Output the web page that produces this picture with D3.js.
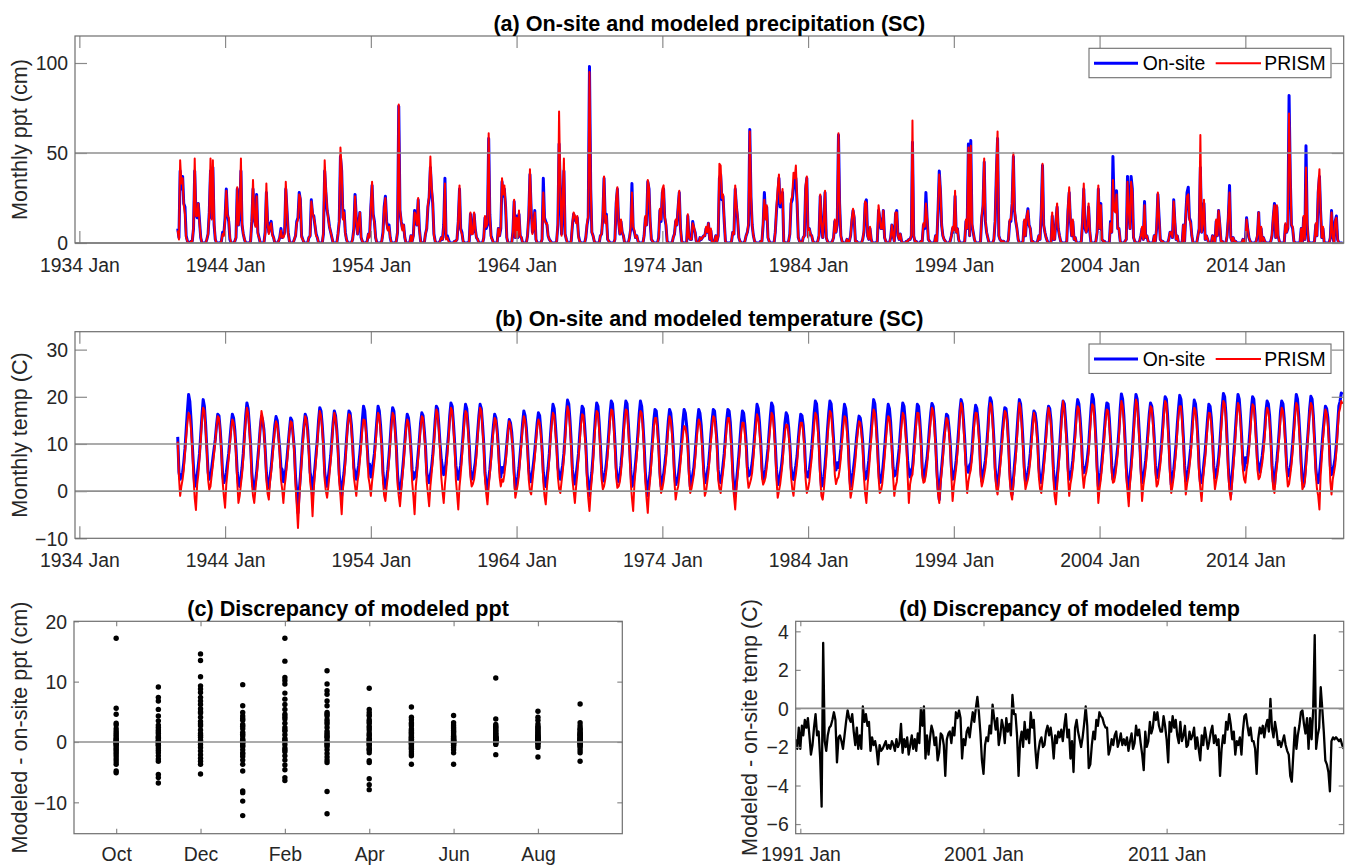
<!DOCTYPE html>
<html>
<head>
<meta charset="utf-8">
<script src="https://cdn.jsdelivr.net/npm/d3@7"></script>
<style>
body{margin:0;background:#fff;}
svg{display:block;font-family:"Liberation Sans",Arial,Helvetica,sans-serif;}
</style>
</head>
<body>
<svg id="fig" width="1351" height="868"></svg>
<script>
// series are stored by water year (Oct..Sep), one row per year
const firstWY = 1941;
const wyMonths = ["Oct","Nov","Dec","Jan","Feb","Mar","Apr","May","Jun","Jul","Aug","Sep"];
const seriesNames = ["On-site","PRISM"];

// (a) monthly precipitation, cm
const pptOnsite = [
[8,3,40,30,37,22,20,4,1,0,0,1],
[1,8,40,16,14,22,12,3,0,0,0,0],
[2,5,17,40,14,42,10,2,0,0,0,0],
[1,6,5,14,30,16,12,2,0,0,0,1],
[3,30,10,17,40,10,5,2,0,0,0,0],
[1,12,30,14,10,27,6,3,0,0,0,0],
[6,28,12,6,10,12,5,3,0,0,0,1],
[3,8,3,4,6,30,18,6,1,0,0,0],
[2,4,12,14,28,24,4,2,0,0,0,0],
[3,4,24,16,15,10,5,3,0,0,0,0],
[5,40,28,18,14,9,6,3,0,0,0,0],
[5,12,48,40,14,18,6,2,0,0,0,0],
[2,8,27,14,5,10,17,3,1,0,0,0],
[1,5,4,20,32,16,12,3,0,0,0,0],
[1,6,20,26,12,8,10,3,0,0,0,0],
[1,6,76,18,12,8,10,3,0,0,0,0],
[4,1,4,18,14,10,24,8,1,0,0,0],
[5,8,20,25,42,30,22,5,1,0,0,0],
[1,3,2,10,36,3,4,2,0,0,0,0],
[1,1,2,12,30,8,6,1,0,0,0,0],
[1,16,5,6,16,8,3,2,0,0,0,0],
[3,14,8,10,58,16,4,2,0,0,0,0],
[8,4,8,34,26,30,20,3,0,0,0,0],
[6,23,3,15,3,16,4,3,0,0,0,0],
[4,15,38,18,6,8,18,2,0,0,0,0],
[2,36,14,12,10,4,2,1,0,0,0,0],
[1,10,55,30,5,20,40,5,2,0,0,0],
[1,10,16,14,12,14,4,1,0,0,0,0],
[3,10,14,98,30,6,4,1,0,0,0,0],
[4,5,14,36,12,16,2,1,0,0,0,0],
[2,22,30,12,5,12,6,4,0,0,0,0],
[3,8,33,8,6,3,4,1,0,0,0,0],
[4,14,10,34,30,12,2,1,0,0,0,0],
[3,18,12,28,30,14,10,1,0,0,0,0],
[3,5,12,10,20,28,8,1,0,0,0,0],
[15,3,2,2,12,8,6,1,0,0,3,2],
[3,4,4,8,6,11,2,7,0,0,1,4],
[1,4,36,38,24,26,12,1,0,0,0,0],
[1,6,5,30,20,14,3,1,0,0,0,1],
[4,6,10,63,25,10,4,1,0,0,0,0],
[1,1,10,28,14,20,3,1,0,0,0,0],
[6,18,26,36,20,22,28,1,0,0,0,1],
[5,22,24,31,34,36,22,3,1,0,0,3],
[4,30,36,4,8,5,4,1,0,0,0,1],
[4,26,10,3,12,28,3,1,0,0,0,1],
[3,12,6,10,60,22,4,1,0,0,0,2],
[1,1,4,12,18,14,1,1,0,0,0,0],
[2,6,22,24,4,2,8,2,0,0,0,0],
[1,18,14,8,8,18,3,1,0,0,0,3],
[10,4,1,16,18,4,2,5,1,0,0,0],
[1,1,2,2,4,56,4,1,1,0,0,0],
[1,1,10,8,28,14,2,1,0,0,0,0],
[4,1,18,40,28,10,4,2,1,0,0,0],
[1,4,8,6,26,6,8,2,0,0,0,0],
[1,12,8,55,4,57,10,6,2,0,0,0],
[0,1,14,20,45,12,6,3,0,0,0,0],
[2,12,38,58,4,2,1,1,1,0,0,0],
[2,12,12,22,48,18,12,8,2,0,0,0],
[1,12,4,14,19,10,8,1,1,0,0,0],
[1,4,2,18,43,10,6,3,1,0,0,0],
[15,2,2,12,20,8,4,1,0,0,0,0],
[1,18,28,12,4,12,2,3,0,0,0,0],
[1,12,30,8,6,8,20,6,0,0,0,0],
[1,6,30,8,22,2,1,1,0,0,0,0],
[12,6,48,20,18,29,8,8,1,0,0,0],
[1,2,37,20,8,37,30,3,1,0,0,0],
[1,4,8,2,23,3,4,1,0,0,0,0],
[4,1,8,27,14,2,1,1,0,0,0,0],
[2,6,6,3,24,12,2,4,0,0,0,0],
[10,1,16,28,31,14,12,4,0,0,0,0],
[4,8,42,6,10,22,2,4,2,0,0,0],
[4,2,0,12,4,18,10,1,1,0,0,0],
[4,14,32,3,1,3,1,1,0,0,0,0],
[0,2,1,0,14,8,3,1,0,0,0,0],
[1,4,17,0,8,1,3,1,0,0,0,0],
[1,4,14,22,3,20,4,1,0,0,0,0],
[10,6,8,82,36,10,8,1,0,0,0,0],
[0,8,0,14,2,54,10,1,0,0,0,0],
[1,10,4,28,37,18,3,8,0,0,0,0],
[0,3,18,4,0,12,15,2,0,0,0,0]
];
const pptPrism = [
[7,2,46,33,36,21,16,3,1,0,0,1],
[1,9,47,15,15,22,11,3,0,0,0,0],
[2,5,17,47,13,46,12,2,0,0,0,0],
[1,5,4,13,29,15,14,3,0,0,0,1],
[3,31,10,18,47,11,5,2,0,0,0,0],
[1,13,35,14,9,26,5,3,0,0,0,0],
[5,33,11,5,9,11,4,3,0,0,0,1],
[3,7,3,3,5,34,18,5,1,0,0,0],
[2,4,11,13,27,25,3,2,0,0,0,0],
[3,4,23,17,14,11,4,3,0,0,0,0],
[6,46,30,19,13,9,6,3,0,0,0,0],
[5,12,53,41,13,17,5,2,0,0,0,0],
[2,7,26,13,5,11,17,3,1,0,0,0],
[1,5,3,21,34,15,11,3,0,0,0,0],
[1,5,19,25,11,7,9,3,0,0,0,0],
[1,6,77,19,12,7,10,3,0,0,0,0],
[4,1,4,17,15,10,25,7,1,0,0,0],
[5,8,21,26,48,32,23,4,1,0,0,0],
[1,3,2,9,33,2,3,1,0,0,0,0],
[1,1,2,13,32,7,5,1,0,0,0,0],
[1,17,5,5,17,8,3,2,0,0,0,0],
[3,15,9,11,61,15,3,2,0,0,0,0],
[8,4,9,36,27,32,21,3,0,0,0,0],
[6,24,3,14,3,18,4,3,0,0,0,0],
[4,16,41,19,5,8,17,2,0,0,0,0],
[2,28,13,11,11,4,2,1,0,0,0,0],
[1,11,73,32,4,22,47,5,2,0,0,0],
[1,11,17,15,11,15,3,1,0,0,0,0],
[3,11,15,95,31,6,4,1,0,0,0,0],
[4,5,15,37,11,15,2,1,0,0,0,0],
[2,24,31,11,5,13,6,4,0,0,0,0],
[3,9,28,9,7,3,4,1,0,0,0,0],
[4,15,10,35,31,13,2,1,0,0,0,0],
[3,19,13,30,32,15,11,1,0,0,0,0],
[3,5,13,10,21,29,8,1,0,0,0,0],
[16,3,2,2,11,9,6,1,0,0,3,2],
[3,4,4,9,6,11,2,8,0,0,1,4],
[1,4,44,43,25,27,13,1,0,0,0,0],
[1,6,5,32,21,15,3,1,0,0,0,1],
[4,6,11,62,26,10,4,1,0,0,0,0],
[1,1,12,24,13,21,3,1,0,0,0,0],
[6,20,30,38,22,24,30,1,0,0,0,1],
[5,24,26,39,36,43,24,3,1,0,0,3],
[4,32,37,3,8,5,4,1,0,0,0,1],
[4,27,11,3,13,29,3,1,0,0,0,1],
[3,13,6,11,61,23,4,1,0,0,0,2],
[1,1,4,13,19,15,1,1,0,0,0,0],
[2,7,23,22,4,2,9,2,0,0,0,0],
[1,21,15,8,8,18,3,1,0,0,0,3],
[10,4,1,17,17,4,2,5,1,0,0,0],
[1,1,2,2,4,68,4,1,1,0,0,0],
[1,1,11,9,22,14,2,1,0,0,0,0],
[4,1,19,38,29,10,4,2,1,0,0,0],
[1,4,9,7,29,6,8,2,0,0,0,0],
[1,13,8,53,4,54,11,6,2,0,0,0],
[0,1,15,21,47,13,6,3,0,0,0,0],
[2,13,40,62,4,2,1,1,1,0,0,0],
[2,13,13,23,50,19,13,8,2,0,0,0],
[1,13,4,15,18,10,8,1,1,0,0,0],
[1,4,2,19,44,10,6,3,1,0,0,0],
[17,2,2,13,22,9,4,1,0,0,0,0],
[1,20,31,13,4,13,2,3,0,0,0,0],
[1,13,33,9,6,9,22,7,0,0,0,0],
[1,6,32,8,21,2,1,1,0,0,0,0],
[11,6,35,18,17,27,8,8,1,0,0,0],
[1,2,34,18,8,34,28,3,1,0,0,0],
[1,4,9,2,21,3,4,1,0,0,0,0],
[4,1,9,28,14,2,1,1,0,0,0,0],
[2,6,6,3,23,13,2,4,0,0,0,0],
[10,1,15,26,27,13,11,4,0,0,0,0],
[4,8,60,6,11,24,2,4,2,0,0,0],
[4,2,0,13,4,18,11,1,1,0,0,0],
[4,15,28,3,1,3,1,1,0,0,0,0],
[0,2,1,0,13,8,3,1,0,0,0,0],
[1,5,17,0,9,1,3,1,0,0,0,0],
[1,5,15,21,3,21,4,1,0,0,0,0],
[11,6,9,72,40,10,9,1,0,0,0,0],
[0,8,0,15,2,42,11,1,0,0,0,0],
[1,11,4,30,41,19,3,9,0,0,0,0],
[0,3,17,4,0,12,14,2,0,0,0,0]
];

// (b) monthly temperature, C
const tempOnsite = [
[11.5,4,2.5,3,4,6,9,13,17,20.5,19,15],
[10,5,1,2,3.5,5.5,8,12,16,19.4,18,14],
[9,4,2.5,3,5,7,9,11,14,16.3,16,13],
[9,3.5,1.8,2.5,4,6,8,11,14,16.3,15.5,13],
[9,4,1.5,1,3,5,8,12,16,18.7,17.5,14],
[10,4,1,0.4,2,4,7,10,13.5,15.9,15,13],
[9,4,1.5,0.7,3,5,8,11,14,15.8,15,12],
[9,5,4.6,2,3.5,4.5,7,10,13,15.5,15,12],
[9,3,0,-4.6,0,3,7,11,14,16.3,15.5,13],
[9,4,2.5,-1,2.5,5,8,11,15,17.7,17,14],
[10,4,2,1,3,5,7.5,11,14.5,17,16,13],
[9,3.5,1,-1,2,4,7,11,14.5,17,16.5,14],
[10,5,3.9,2.5,4,5.5,8,11,15,18,17,13.5],
[9.5,5,5.7,3,4.5,6,8,11.5,15,18,17,14],
[10,4,1.5,0.7,2.5,4.5,7.5,11,15,17.7,17,13.5],
[9.5,3.5,1,-0.4,1.5,4,7,10.5,14,16.3,15.5,13],
[9,4.5,2.5,3.9,3,5,8,11,14.5,16.6,16,13],
[9.5,4,2.5,1.8,3.5,5,7.5,11,15,18,17.5,14],
[10,6.7,5,3.5,4.5,6,9,12,16,18.7,18,14.5],
[10.5,5.5,3.9,2.5,4,5.5,8.5,12,16,18.4,17.5,14],
[10,4.5,2.5,3,4.5,6,9,12.5,16,18.4,17.5,14],
[10,4,1.5,0.4,2.5,4.5,7.5,11,14,16.3,15.5,13],
[9.5,5,3,5,4,5,7,10,13,15.2,14.5,12.5],
[9,4,0.4,1.5,3,5,8,11,14.5,17,16,13.5],
[9.5,4.5,2.5,2,4,6,8.5,11.5,14.5,16.6,16,13],
[9,4,1.5,1,3,5,8,12,15.5,18.4,17.5,14],
[10,5,3.5,2.5,4,5.5,8,12,16.5,19.3,18.5,15],
[10.5,4.5,2.5,1.5,3.5,5.5,8,12,15.5,18,17.5,14],
[10,4,1,-1,2,4,7.5,12,16,18.7,18,14.5],
[10,4.5,2.1,2.5,4,6,9,12.5,16.5,19.1,18.5,15],
[10.5,5,2.5,2,3.5,5.5,8.5,12.5,16.5,19.1,18.5,14.5],
[10,4.5,1,1.5,3.5,6,9,12.5,16.5,19.1,18,14.5],
[10,4,1,-1,2,4,7.5,11,15,17.3,17,14],
[10,4,1,2,3.5,5.5,8,11.5,15,17.3,16.5,13.5],
[9.5,4,1.4,2,3,5,7.5,11,15,17.3,16.5,14],
[10.5,4.5,1,2,3.5,5,8,11.5,15,17.3,16.5,14],
[10,4.5,1.8,2.5,4,5.5,8.5,12,15,17.3,17,14],
[10.5,4.5,2,1.8,3.5,5.5,8,11.5,15,17.3,17,14.5],
[10,4,0.5,-1,2,4.5,7.5,11,14.5,17,16.5,14],
[10.5,5,3.2,3.5,4.5,6,8.5,12,15.5,18.4,17.5,14.5],
[10.5,5,2.5,3,4.5,6.5,9,12.5,16,18.7,18,14.5],
[10,4.5,1.4,2,3.5,5,7.5,11,14.5,16.6,16,13.5],
[10,5,3,2.5,4,5.5,7.5,11,14,16.3,16,14],
[10.5,4.5,3.2,3,4.5,6.5,9,12.5,16.5,19.1,18.5,15],
[10.5,4.5,1,1.5,3,5.5,9,13,16.5,19.1,18.5,15],
[11,6,4.5,6,5,6.5,9,12.5,16,18.4,17.5,14.5],
[10.5,4.5,1,2.5,4,6,8.5,11.5,14,15.9,15.5,13.5],
[10.5,5,2.5,3,4.5,6.5,9.5,13,16.5,19.4,18.5,15],
[10.5,5,1.8,2,3.5,6,9,12.5,16,18.4,17.5,14.5],
[10,5,3.2,3.5,4.5,6.5,9,12.5,16,18.7,18,15],
[11,6.4,4,3,4.5,5,8,12,15.5,18.4,18,15],
[11,5,2.5,3,5.5,7,10,13.5,16.5,18.6,18,15],
[10.5,4.5,0.5,-1.8,2.5,5,8,11.5,14,16.3,16,13.5],
[10.5,5,2.5,3.5,4.5,6.5,9.5,13,17,19.4,18.5,15],
[11,5.7,4.5,4,5.5,6,8.5,12.5,16,18.2,17.5,15],
[11.5,5,2.1,3.5,5,6.5,9.5,13,17.5,19.8,19,15.5],
[11,5,2,0.7,3.5,6,9,12.5,15.5,17.7,17.5,15],
[10.5,4.5,1,-0.7,2.5,5.5,8.5,12.5,16.5,19.4,18.5,15],
[10.5,5,2.1,3,4,5.5,8,11.5,15,17,16.5,14.5],
[11,5,2.5,1.8,3.5,6,9,12.5,16,18,17.5,15],
[10.5,4.5,1.5,0.4,3,5.5,9,13,17,19.1,18.5,15],
[11,5,2.5,3,4.5,6.5,9.5,13,17,19.4,18.5,15.5],
[11.5,5.5,3.9,4.5,5.5,7,9.5,13.5,17.5,20.5,19.5,16],
[11,5,1,2,4,6.5,9.5,13,16.5,18.7,18.5,15.5],
[11,5.5,2.5,3,5,7,9.5,13,17.5,20.6,19.5,16],
[11,5,1.5,0.4,3,5.5,9,13,17.5,20.5,19.5,15.5],
[11,5,1.8,2.5,4.5,6.5,9.5,13,16.5,18.7,18,15.5],
[11.5,5.5,2.8,3,5,7,10,13.5,17.5,20,19.5,16],
[11,5,1.4,2.5,4.5,7,10,14,17.5,20.3,19.5,16],
[11.5,5.5,2.1,3,4.5,6.5,9,12.5,16.5,19.3,18.5,15.5],
[11,5,2,1.8,3.5,6,8.5,12,15.5,18.4,18,15.5],
[11.5,5.5,2.8,3.5,5,7,10,14,18,20.7,20,16.5],
[11,5,1.5,-0.7,3,6,9.5,13.5,17.5,20.5,19.5,16],
[11.5,6,4.5,7.1,6,7.5,10,13.5,17.5,20,19.5,16],
[11.5,6.5,5.3,4,6,7.5,10,13,17,19.1,18.5,16],
[11.5,5.5,2,1,4.5,6.5,9.5,13,17,19.1,18.5,15.5],
[11,5.5,3.2,3.5,5,7,10,13.5,17.5,20.5,19.5,16],
[11.5,6,2,1,3.5,6.5,10,13.5,17.5,20.1,19.5,16],
[11,5,2.5,1.8,3.5,6,9,12.5,15.5,18,17.5,15.5],
[11,5.3,3.5,4.5,5.5,7,10,14,18,19,20.8,20.5]
];
const tempPrism = [
[10.5,3,-1,1,2.5,4.5,8,11.5,14.5,16.6,16,13],
[9,3,-1.5,-4,1.5,3.5,7,11,15,17.7,17,13],
[8.5,2.5,0.3,1,3.5,5.5,8,10.5,13.5,15.9,15.5,12.5],
[8,2,-1,-3.5,1.5,4,7,10,13,15.2,14.5,12],
[8,2,-2.5,-1,1.5,3.5,7,11,15,17.7,16.5,13],
[9,2,-1,-2.5,0.5,3,6,9.5,13.5,17,15.5,12.5],
[8.5,2.5,-0.5,-1.8,2,4,7,10,13,14.8,14,11.5],
[8,2.5,0.5,-2.5,1,3,6,9,12.5,14.8,14.5,11.5],
[8,1,-3,-7.8,-2,2,6,10,13.5,15.9,15,12],
[8,2,0,-5.3,0.5,3.5,7,10,14,17,16,13],
[9,2.5,0,-1.4,1,3.5,6.5,10,14,16.6,15.5,12.5],
[8,2,-1,-4.9,0.5,2.5,6,10,14,16.3,16,13],
[9,3,1,-1,2,3.5,6.5,9.5,13,15.2,15,12.5],
[8.5,3,1.5,-1,2,4,6.5,10,14,16.6,16,12.5],
[9,2,-1,-2.1,1,3,6.5,10,14,16.6,16,12.5],
[8.5,1.5,-1,-3.2,0,3,6,9.5,13,15.2,14.5,12],
[8,2,-1,-4.9,1,3.5,7,10,13.5,15.9,15.5,12],
[8.5,2,-0.5,-3.2,1,3.5,6.5,10,14,17.3,16.5,13],
[9,3,0,-2.5,1.5,4,7.5,11,15,17.7,17,13.5],
[9.5,2.5,-0.5,-3.9,1,3.5,7,11,14.5,17,16.5,13],
[9,3,1,1.5,2.5,4.5,7.5,11.5,15,17.7,17,13],
[9,2.5,-0.5,-2.8,1,3.5,6.5,10,13,15.5,15,12],
[8.5,3,1,2.5,2,3.5,6,9,12.5,14.8,14,11.5],
[8.5,2.5,-1.4,0,1.5,3.5,7,10,13.5,15.9,15,12.5],
[8.5,2.5,0,-0.7,2,4.5,7,10.5,13.5,15.2,14.5,12],
[8,2,-1,-2.8,1,3.5,7,11,14.5,16.6,16,12.5],
[9,3,0.5,-0.4,2,4,7,11,15,18,17,13.5],
[9,2.5,0,-2.5,1,3.5,7,10.5,14,16.3,16,12.5],
[8.5,2,-1.5,-4.2,0,2.5,6.5,10.5,14.5,17,16.5,13],
[8.5,2.5,0.4,1,2.5,4.5,7.5,11,15,17.3,17,13.5],
[9,3,0.7,1,2,4,7.5,11,15,17.3,17,13],
[8.5,2,-1.5,-4.2,1.5,4.5,7.5,11,15,17,16.5,13],
[8.5,2,-1.5,-4.6,0,2.5,6,9.5,13.5,15.5,15.5,12.5],
[8.5,2.5,-0.4,0.5,2,4,6.5,10,13.5,15.9,15,12],
[8,2,-1.8,0,1,3,6,9,12,13.8,13.5,12],
[9,3,-0.4,0.5,2,3.5,6.5,10,13,15.2,14.5,12],
[8.5,3,-1,0,2,4,7,10.5,13.5,15.9,15.5,12.5],
[9,2.5,0.5,-0.4,2,4,6.5,10,13.5,15.5,15.5,12.5],
[8.5,2,-1,-3.9,0.5,3,6,9.5,12.5,14.5,14.5,12],
[9,3,0.7,1.5,2.5,4,7,10.5,13.5,16.3,15.5,12.5],
[9,3,1.4,2,3,5,7.5,11,14,16.6,16,12.5],
[8.5,2.5,-1.4,0,1.5,3.5,6,9.5,12.5,14.1,14,12],
[9,3,0.5,-1,2,3.5,6,9.5,12.5,14.5,14.5,12.5],
[9,2.5,-0.4,0.5,2,4.5,7,10.5,14,16.6,16,13],
[9,2.5,-1,-1.8,0.5,3.5,7,11,14.5,17,16.5,13],
[9.5,3.5,1.5,2.5,3,4.5,7,10.5,13.5,15.9,15.5,12.5],
[9,2.5,-1.4,0,2,4,6.5,10,12.5,14.8,14.5,12],
[9,3,-0.5,-2.5,1.5,4,7.5,11,14.5,17.3,16.5,13],
[9,3,-0.4,0,1.5,4,7,10.5,13.5,15.9,15.5,12.5],
[8.5,3,-1,1,2,4.5,7,10.5,14,16.6,16,13],
[9.5,3,-2.5,1.5,3,3.5,6.5,10.5,14,16.6,16.5,13.5],
[9.5,3.5,1.8,2,3.5,5.5,8.5,12,15,17.7,17,13.5],
[9,3,-0.5,-2.5,1.5,4,7,10.5,13,15.5,15,12.5],
[9,3,-2.1,1,3,5,8,11.5,16,18.7,17.5,13.5],
[9.5,3.5,-0.4,2,3.5,4.5,7,11,14.5,16.6,16.5,13.5],
[10,3.5,1,2,3.5,5,8,11.5,16,18.7,18,14],
[10,3.5,0.5,-0.7,2,4.5,7.5,11,14,17,16.5,14],
[9.5,2.5,-0.5,-1.8,1.5,4,7,11,15,18.7,17.5,13.5],
[9,3.5,0.4,1.5,2.5,4,6.5,10,13.5,16.6,15.5,13],
[9.5,3,0.5,-0.4,2,4.5,7.5,11,15,17.7,16.5,14],
[9.5,2.5,-1,-2.8,1,4,7.5,11.5,16,19.1,17.5,13.5],
[9.5,3,-1,1.5,3,5,8,11.5,15.5,18,17.5,14],
[10,3.5,0.7,3,4,5.5,8,12,16,18.4,18,14.5],
[9.5,3,-2.5,0.5,2.5,5,8,11.5,15,17.3,17,14],
[10,4,1.8,2,3.5,5.5,8,11.5,16,19.1,18,14.5],
[9.5,3,0,-3.2,1.5,4,7.5,11.5,16,19.4,18.5,14],
[10,3.5,-2.1,1,3,5,8,11.5,15.5,18,17.5,14],
[10,4,1,1.5,3.5,5.5,8.5,12,16,19.1,18.5,14.5],
[9.5,3.5,-0.4,1,3,5.5,8.5,12.5,16,18,18,14.5],
[10,4,-0.7,1.5,3,5,7.5,11,15,17.7,17,14],
[9.5,3.5,0.5,-2.1,2,4.5,7,10.5,14,16.6,16.5,14],
[10,4,0.4,2,3.5,5.5,8.5,12.5,16.5,19.1,18.5,15],
[9.5,3.5,0,-1.8,1.5,4.5,8,12,16,18.7,18,14.5],
[10,4.5,2.5,1.8,4.5,6,8.5,12,16,18.4,18,14.5],
[10,4.5,2.5,3,4.5,6,8.5,11.5,15.5,17.7,17,14.5],
[10,4,0.5,-0.4,3,5,8,11.5,15.5,17.7,17,14],
[9.5,4,1,1.5,3.5,5.5,8.5,12,16,18.7,18,14.5],
[10,4.5,0.4,1,2,5,9,13,16.5,18.7,18,15],
[9.5,3.5,0.5,-1,-3.9,3,7,11,14,17.3,16.5,14],
[9.5,2,-0.7,2.5,4,5.5,8.5,12.5,16.5,17.5,19.1,18.5]
];

// (c) modeled - on-site ppt (cm), by calendar month, Oct..Sep
const pptDiffOct = [17.2,5.6,4.6,3.1,2.8,2.2,1.8,1.5,1.2,0.9,0.6,0.4,0.2,0.0,-0.2,-0.4,-0.6,-0.9,-1.2,-1.5,-1.8,-2.1,-2.5,-2.9,-3.3,-3.7,-4.8,-5.1,0.1,-0.1];
const pptDiffNov = [9.1,7.4,6.8,5.4,4.3,3.5,2.4,2.0,1.4,1.0,0.6,0.3,0.0,-0.3,-0.6,-1.0,-1.4,-1.8,-2.3,-2.8,-3.2,-5.4,-5.9,-6.8,0.1,0.8,-0.1,1.7,2.8,-0.5];
const pptDiffDec = [14.6,13.5,10.8,9.3,8.8,8.2,7.4,6.8,6.2,5.5,4.8,4.1,3.4,2.7,2.0,1.4,0.8,0.3,0.0,-0.4,-0.9,-1.5,-2.1,-2.7,-3.2,-3.7,-5.3,1.1,3.0,5.0];
const pptDiffJan = [9.5,6.0,4.9,4.3,3.6,2.9,2.2,1.6,1.0,0.5,0.1,-0.3,-0.8,-1.3,-1.8,-2.4,-3.0,-3.7,-4.8,-8.1,-8.4,-9.8,-12.2,0.3,-0.1,1.3,2.6,3.9,-0.6,-2.0];
const pptDiffFeb = [17.2,13.4,10.7,10.2,9.6,8.1,7.1,6.2,5.4,4.6,3.8,3.1,2.4,1.8,1.2,0.6,0.1,-0.4,-1.0,-1.6,-2.3,-3.0,-3.8,-4.6,-5.9,-6.4,0.3,2.0,4.2,-1.3];
const pptDiffMar = [11.8,9.6,8.5,7.9,6.8,6.0,4.9,4.3,3.7,3.0,2.4,1.8,1.2,0.7,0.2,-0.3,-0.8,-1.3,-1.9,-2.5,-3.0,-3.4,-8.2,-11.9,0.0,1.5,3.3,4.6,-0.5,0.9];
const pptDiffApr = [8.9,5.4,4.9,4.3,3.7,3.1,2.6,2.0,1.5,1.0,0.6,0.2,-0.2,-0.6,-1.0,-1.4,-1.8,-3.1,-3.4,-6.1,-7.1,-7.9,0.0,0.4,1.2,2.3,3.4,4.5,-0.4,-1.2];
const pptDiffMay = [5.8,4.1,3.7,3.2,2.7,2.2,1.8,1.4,1.0,0.7,0.4,0.1,-0.2,-0.5,-0.8,-1.2,-1.6,-2.0,-2.3,-3.7,0.0,0.2,0.5,1.2,2.0,3.0,-0.3,-1.0,0.8,1.6];
const pptDiffJun = [4.4,3.2,2.8,2.2,1.7,1.2,0.8,0.5,0.2,0.0,-0.2,-0.5,-0.9,-1.3,-1.8,-3.7,0.1,0.3,0.6,1.0,1.5,0.0,-0.1,0.2,0.4,-0.3,2.5,1.9,-0.6,0.9];
const pptDiffJul = [10.6,3.8,2.9,2.6,2.2,1.9,1.5,1.2,0.9,0.7,0.5,0.3,0.1,0.0,-0.2,-0.4,-2.1,0.2,0.4,0.6,0.8,1.0,1.4,1.8,2.4,0.0,0.1,0.3,0.5,0.7];
const pptDiffAug = [5.1,4.1,3.6,3.0,2.6,2.2,1.8,1.4,1.1,0.8,0.5,0.2,0.0,-0.3,-0.6,-0.9,-2.5,0.1,0.3,0.6,0.9,1.2,1.6,2.0,2.4,0.0,0.2,0.4,-0.1,0.7];
const pptDiffSep = [6.3,3.2,2.7,2.3,1.9,1.5,1.2,0.9,0.6,0.3,0.1,-0.1,-0.4,-0.7,-1.0,-1.4,-1.8,-3.2,0.0,0.2,0.5,0.8,1.1,1.6,2.1,-0.2,0.0,0.4,-0.5,1.3];
const cMonthTicks = [1,3,5,7,9,11];

// (d) modeled - on-site temp (C), water years 1991..2020
const diffFirstWY = 1991;
const tempDiff = [
[-1.6,-2.1,-1.0,-2.1,-0.9,-1.4,-0.6,-1.0,-0.5,-1.4,-2.4,-1.9],
[-1.0,-0.3,-1.4,-1.2,-2.6,-5.1,3.4,-1.7,-2.2,-1.4,-1.0,-0.9],
[-0.6,-0.2,-0.6,-2.8,-1.5,-1.4,-1.7,-2.1,-1.4,-0.7,-0.1,-0.5],
[-0.7,-0.3,-1.2,-1.9,-1.0,-2.1,-1.4,-2.1,0.1,-0.7,-0.3,-0.9],
[-0.7,-2.2,-1.5,-1.9,-1.7,-2.1,-2.9,-1.9,-2.2,-2.1,-1.9,-1.7],
[-2.1,-1.9,-2.1,-1.7,-1.9,-2.2,-1.6,-2.0,-1.8,-0.8,-2.3,-1.6],
[-2.0,-1.5,-2.4,-1.9,-1.4,-2.1,-1.6,-2.2,-1.3,-1.8,0.0,-0.9],
[0.1,-2.6,-1.4,-2.4,-1.5,-0.9,-1.2,-1.9,-1.5,-2.7,-2.3,-1.3],
[-1.4,-1.9,-3.5,-1.6,-1.3,-1.2,-1.8,-1.0,-1.4,-0.2,-0.5,-0.1],
[-0.5,-2.6,-1.6,-1.9,-1.2,-1.0,-1.5,-0.8,-0.2,-0.7,0.0,0.6],
[-0.2,-1.3,-2.7,-3.4,-1.9,-1.5,-1.7,-0.9,-1.3,0.2,-0.5,-1.1],
[-0.5,-1.9,-1.4,-0.6,-1.0,-1.8,-0.5,-1.2,-0.8,-1.4,0.7,-0.3],
[-0.3,-1.4,-3.5,-1.7,-1.2,-2.0,-0.7,-1.6,-1.1,-1.8,-0.2,-1.0],
[-0.6,-2.1,-3.1,-2.2,-1.7,-1.5,-2.0,-1.9,-1.2,-0.9,-1.4,-1.0],
[-1.6,-2.6,-1.4,-1.8,-1.2,-1.5,-1.1,-1.7,-0.9,-0.3,-1.5,-1.1],
[-2.6,-1.7,-3.3,-1.0,-0.6,-1.2,-1.6,-2.0,-1.5,-0.8,0.1,-0.9],
[-3.1,-2.9,-1.9,-1.2,-1.6,-0.6,-0.9,-0.2,-0.4,-0.5,-0.8,-1.0],
[-1.0,-2.4,-2.1,-1.6,-1.9,-1.4,-1.2,-2.0,-1.7,-1.3,-1.9,-1.6],
[-1.9,-1.5,-2.2,-1.7,-1.3,-2.1,-1.8,-0.9,-1.4,-1.1,-1.8,-2.4],
[-3.2,-1.2,-2.0,-1.7,-0.7,-1.3,-1.0,-0.2,-0.6,-0.2,-0.9,-1.2],
[-1.2,-0.4,-0.9,-1.6,-2.8,-0.7,-1.2,-0.4,-1.0,-0.6,-1.4,-1.8],
[-0.7,-1.7,-1.4,-0.9,-2.0,-1.9,-1.2,-1.6,-1.4,-1.0,-2.1,-1.5],
[-2.1,-2.7,-1.4,-1.9,-1.0,-1.5,-2.1,-1.7,-1.2,-0.9,-1.8,-1.4],
[-1.9,-1.6,-3.5,-2.1,-1.4,-1.8,-0.7,-1.1,-0.3,-0.8,-1.6,-1.2],
[-2.4,-1.7,-1.9,-1.5,-2.4,-1.2,-0.4,-0.3,-0.9,-1.4,-1.0,-1.7],
[-1.7,-2.1,-3.4,-1.6,-1.0,-1.3,-0.9,-1.5,-0.9,-0.6,-1.2,0.5],
[-1.0,-1.5,-0.7,-1.2,-1.9,-1.7,-2.0,-1.7,-1.4,-1.9,-2.2,-2.4],
[-3.5,-3.8,-2.4,-1.0,-2.1,-1.4,-0.9,-0.2,-0.1,-0.8,-1.3,-0.5],
[-2.1,-0.5,-1.6,-0.1,3.8,-2.1,-1.4,-1.0,1.1,0.0,-1.2,-2.7],
[-2.9,-3.3,-4.3,-1.7,-1.5,-1.6,-1.5,-1.6,-1.7,-1.6,-1.9,-2.1]
];

// axis ticks
const longYearTicks = [1934,1944,1954,1964,1974,1984,1994,2004,2014];
const shortYearTicks = [1991,2001,2011];
const pptTicks = [0,50,100];
const tempTicks = [-10,0,10,20,30];
const cTicks = [-10,0,10,20];
const dTicks = [-6,-4,-2,0,2,4];

const svg = d3.select("#fig");
const AX = "#8a8a8a", BOX = "#6e6e6e", TXT = "#262626";
const FONT = '"Liberation Sans",Arial,Helvetica,sans-serif';

// turn water-year rows into dated points
function monthly(rows, wy0){
	let out = [];
	rows.forEach(function(row, r){
		row.forEach(function(v, m){
			let yr = wy0 - 1 + r + (m >= 3 ? 1 : 0);
			out.push({date: new Date(yr, (m + 9) % 12, 1), v: v});
		});
	});
	return out;
}

let clipN = 0;
function makeAxes(b, x, y, o){
	let g = svg.append("g");
	let tl = o.tl;
	let bot = g.append("g").attr("transform", "translate(0," + b.b + ")")
		.call(d3.axisBottom(x).tickValues(o.xt).tickFormat(o.xf).tickSizeInner(-tl).tickSizeOuter(0));
	bot.selectAll("text").attr("y", o.xly).attr("dy", 0);
	let top = g.append("g").attr("transform", "translate(0," + b.t + ")")
		.call(d3.axisTop(x).tickValues(o.xt).tickFormat("").tickSizeInner(-tl).tickSizeOuter(0));
	let left = g.append("g").attr("transform", "translate(" + b.l + ",0)")
		.call(d3.axisLeft(y).tickValues(o.yt).tickSizeInner(-tl).tickSizeOuter(0).tickPadding(7));
	left.selectAll("text").attr("dy", "0.35em");
	let right = g.append("g").attr("transform", "translate(" + b.r + ",0)")
		.call(d3.axisRight(y).tickValues(o.yt).tickFormat("").tickSizeInner(-tl).tickSizeOuter(0));
	[bot, top, left, right].forEach(function(a){
		a.select(".domain").remove();
		a.attr("font-size", null).attr("font-family", null);
		a.selectAll(".tick line").attr("stroke", AX).attr("stroke-width", 1.2);
		a.selectAll("text").attr("fill", TXT).style("font-size", "19.4px").style("font-family", FONT);
	});
	// reference lines
	(o.ref || []).forEach(function(v){
		g.append("line").attr("x1", b.l).attr("x2", b.r).attr("y1", y(v)).attr("y2", y(v))
			.attr("stroke", "#8f8f8f").attr("stroke-width", 1.6);
	});
	g.append("rect").attr("x", b.l).attr("y", b.t).attr("width", b.r - b.l).attr("height", b.b - b.t)
		.attr("fill", "none").attr("stroke", BOX).attr("stroke-width", 1.2);
	// title and y label
	g.append("text").attr("x", (b.l + b.r) / 2).attr("y", b.t - 5.5).attr("text-anchor", "middle")
		.style("font", "bold 21.6px " + FONT).attr("fill", "#000").text(o.title);
	g.append("text").attr("transform", "translate(" + o.ylx + "," + ((b.t + b.b) / 2) + ") rotate(-90)")
		.attr("text-anchor", "middle").style("font", "21.6px " + FONT).attr("fill", TXT).text(o.ylabel);
	// plot area, drawn under the frame
	let id = "clip" + (clipN++);
	svg.append("clipPath").attr("id", id).append("rect")
		.attr("x", b.l).attr("y", b.t).attr("width", b.r - b.l).attr("height", b.b - b.t);
	return svg.insert("g", function(){ return g.node(); }).attr("clip-path", "url(#" + id + ")");
}

function legend(bx, by){
	let g = svg.append("g");
	g.append("rect").attr("x", bx).attr("y", by).attr("width", 242).attr("height", 29.4)
		.attr("fill", "#fff").attr("stroke", "#6e6e6e").attr("stroke-width", 1.1);
	let cy = by + 15;
	g.append("line").attr("x1", bx + 5).attr("x2", bx + 49).attr("y1", cy).attr("y2", cy).attr("stroke", "#0000ff").attr("stroke-width", 3);
	g.append("text").attr("x", bx + 53.7).attr("y", cy + 6.8).style("font", "19.4px " + FONT).attr("fill", "#000").text(seriesNames[0]);
	g.append("line").attr("x1", bx + 126.7).attr("x2", bx + 172).attr("y1", cy).attr("y2", cy).attr("stroke", "#ff0000").attr("stroke-width", 2);
	g.append("text").attr("x", bx + 175.3).attr("y", cy + 6.8).style("font", "19.4px " + FONT).attr("fill", "#000").text(seriesNames[1]);
}

const yearFmt = function(d){ return d.getFullYear() + " Jan"; };

// ---- (a) and (b) share the same time axis
const longDomain = [new Date(1933, 8, 14), new Date(2020, 9, 1)];
function timePanel(b, yDom, yTicks, refs, title, ylabel, onsite, prism){
	let x = d3.scaleTime().domain(longDomain).range([b.l, b.r]);
	let y = d3.scaleLinear().domain(yDom).range([b.b, b.t]);
	let plot = makeAxes(b, x, y, {
		tl: 12, xt: longYearTicks.map(function(v){ return new Date(v, 0, 1); }), xf: yearFmt, xly: 28.5,
		yt: yTicks, ref: refs, title: title, ylabel: ylabel, ylx: 27
	});
	let line = d3.line().x(function(d){ return x(d.date); }).y(function(d){ return y(d.v); });
	plot.append("path").datum(monthly(onsite, firstWY)).attr("d", line)
		.attr("fill", "none").attr("stroke", "#0000ff").attr("stroke-width", 3).attr("stroke-linejoin", "round");
	plot.append("path").datum(monthly(prism, firstWY)).attr("d", line)
		.attr("fill", "none").attr("stroke", "#ff0000").attr("stroke-width", 2).attr("stroke-linejoin", "round");
	legend(1089, b.t + 12.3);
}

timePanel({l: 75, r: 1343.7, t: 36, b: 243}, [0, 115], pptTicks, [0, 50],
	"(a) On-site and modeled precipitation (SC)", "Monthly ppt (cm)", pptOnsite, pptPrism);
timePanel({l: 75, r: 1343.7, t: 331.7, b: 538.3}, [-10, 33.8], tempTicks, [0, 10],
	"(b) On-site and modeled temperature (SC)", "Monthly temp (C)", tempOnsite, tempPrism);

// ---- (c) scatter by month
(function(){
	let b = {l: 74, r: 622.3, t: 621.3, b: 833.7};
	let x = d3.scaleLinear().domain([0, 13]).range([b.l, b.r]);
	let y = d3.scaleLinear().domain([-15.2, 20]).range([b.b, b.t]);
	let plot = makeAxes(b, x, y, {
		tl: 5, xt: cMonthTicks, xf: function(d){ return wyMonths[d - 1]; }, xly: 27.5,
		yt: cTicks, ref: [0], title: "(c) Discrepancy of modeled ppt",
		ylabel: "Modeled - on-site ppt (cm)", ylx: 27
	});
	let byMonth = [pptDiffOct, pptDiffNov, pptDiffDec, pptDiffJan, pptDiffFeb, pptDiffMar,
		pptDiffApr, pptDiffMay, pptDiffJun, pptDiffJul, pptDiffAug, pptDiffSep];
	let pts = [];
	byMonth.forEach(function(arr, i){ arr.forEach(function(v){ pts.push({m: i + 1, v: v}); }); });
	plot.selectAll("circle").data(pts).enter().append("circle")
		.attr("cx", function(d){ return x(d.m); }).attr("cy", function(d){ return y(d.v); })
		.attr("r", 2.7).attr("fill", "#000");
})();

// ---- (d) temperature discrepancy series
(function(){
	let b = {l: 795.7, r: 1343.7, t: 621.3, b: 833.7};
	let x = d3.scaleTime().domain([new Date(1990, 9, 1), new Date(2020, 8, 1)]).range([b.l, b.r]);
	let y = d3.scaleLinear().domain([-6.5, 4.52]).range([b.b, b.t]);
	let plot = makeAxes(b, x, y, {
		tl: 5, xt: shortYearTicks.map(function(v){ return new Date(v, 0, 1); }), xf: yearFmt, xly: 27.5,
		yt: dTicks, ref: [0], title: "(d) Discrepancy of modeled temp",
		ylabel: "Modeled - on-site temp (C)", ylx: 757
	});
	let line = d3.line().x(function(d){ return x(d.date); }).y(function(d){ return y(d.v); });
	plot.append("path").datum(monthly(tempDiff, diffFirstWY)).attr("d", line)
		.attr("fill", "none").attr("stroke", "#000").attr("stroke-width", 2.3).attr("stroke-linejoin", "round");
})();
</script>
</body>
</html>
